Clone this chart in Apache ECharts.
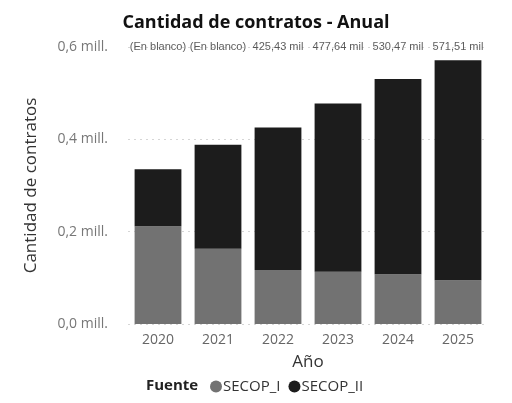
<!DOCTYPE html>
<html>
<head>
<meta charset="utf-8">
<script src="https://cdn.jsdelivr.net/npm/echarts@6/dist/echarts.min.js"></script>
<style>
  html, body { margin: 0; padding: 0; background: #fff; }
  #main { width: 512px; height: 403px; }
</style>
</head>
<body>
<div id="main"></div>
<script>
// datos (millones de contratos)
var years = ['2020', '2021', '2022', '2023', '2024', '2025']
var secopI = [0.212, 0.163, 0.117, 0.113, 0.108, 0.095]
var secopII = [0.123, 0.225, 0.30843, 0.36464, 0.42247, 0.47651]
var totalLabels = ['(En blanco)', '(En blanco)', '425,43 mil', '477,64 mil', '530,47 mil', '571,51 mil']
var yTicks = [0, 0.2, 0.4, 0.6]

var yMax = yTicks[yTicks.length - 1]
var myChart = echarts.init(document.getElementById('main'))

var option = {
  animation: false,
  title: [
    {
      text: 'Cantidad de contratos - Anual',
      left: 'center',
      top: 9,
      textStyle: { fontFamily: 'Open Sans', fontWeight: 'bold', fontSize: 18, color: '#111' }
    },
    {
      text: 'Fuente',
      left: 141,
      top: 373,
      textStyle: { fontFamily: 'Open Sans', fontWeight: 'bold', fontSize: 15, color: '#222' }
    }
  ],
  legend: {
    data: ['SECOP_I', 'SECOP_II'],
    left: 205,
    top: 374,
    icon: 'circle',
    itemWidth: 12,
    itemHeight: 12,
    itemGap: 8,
    textStyle: { fontFamily: 'Open Sans', fontSize: 15, color: '#333', padding: [0, 0, 0, -4] }
  },
  grid: {
    left: 128,
    right: 24,
    top: 47,
    bottom: 79
  },
  xAxis: {
    type: 'category',
    data: years,
    name: 'Año',
    nameLocation: 'middle',
    nameGap: 30,
    nameTextStyle: { fontFamily: 'Open Sans', fontSize: 17, color: '#333' },
    axisLine: { show: false },
    axisTick: { show: false },
    axisLabel: { fontFamily: 'Open Sans', fontSize: 14, color: '#666', margin: 9 }
  },
  yAxis: {
    type: 'value',
    min: 0,
    max: yMax,
    interval: 0.2,
    name: 'Cantidad de contratos',
    nameLocation: 'middle',
    nameGap: 88,
    nameTextStyle: { fontFamily: 'Open Sans', fontSize: 17, color: '#333' },
    axisLabel: {
      fontFamily: 'Open Sans',
      fontSize: 14,
      color: '#777',
      margin: 20,
      formatter: function (v) {
        return v.toFixed(1).replace('.', ',') + ' mill.'
      }
    },
    splitLine: { lineStyle: { color: '#d6d6d6', type: [2, 4] } }
  },
  series: [
    {
      name: 'SECOP_I',
      type: 'bar',
      stack: 'total',
      barWidth: '78%',
      itemStyle: { color: '#727272' },
      data: secopI
    },
    {
      name: 'SECOP_II',
      type: 'bar',
      stack: 'total',
      itemStyle: { color: '#1c1c1c' },
      data: secopII
    },
    {
      // etiquetas de total, en la parte superior del area
      name: 'Total',
      type: 'scatter',
      symbolSize: 1,
      itemStyle: { color: 'rgba(0,0,0,0)' },
      silent: true,
      data: years.map(function () { return yMax }),
      label: {
        show: true,
        position: 'inside',
        fontFamily: 'Liberation Sans',
        fontSize: 11,
        color: '#333',
        formatter: function (p) {
          return totalLabels[p.dataIndex]
        }
      }
    }
  ]
}

myChart.setOption(option)
</script>
</body>
</html>
